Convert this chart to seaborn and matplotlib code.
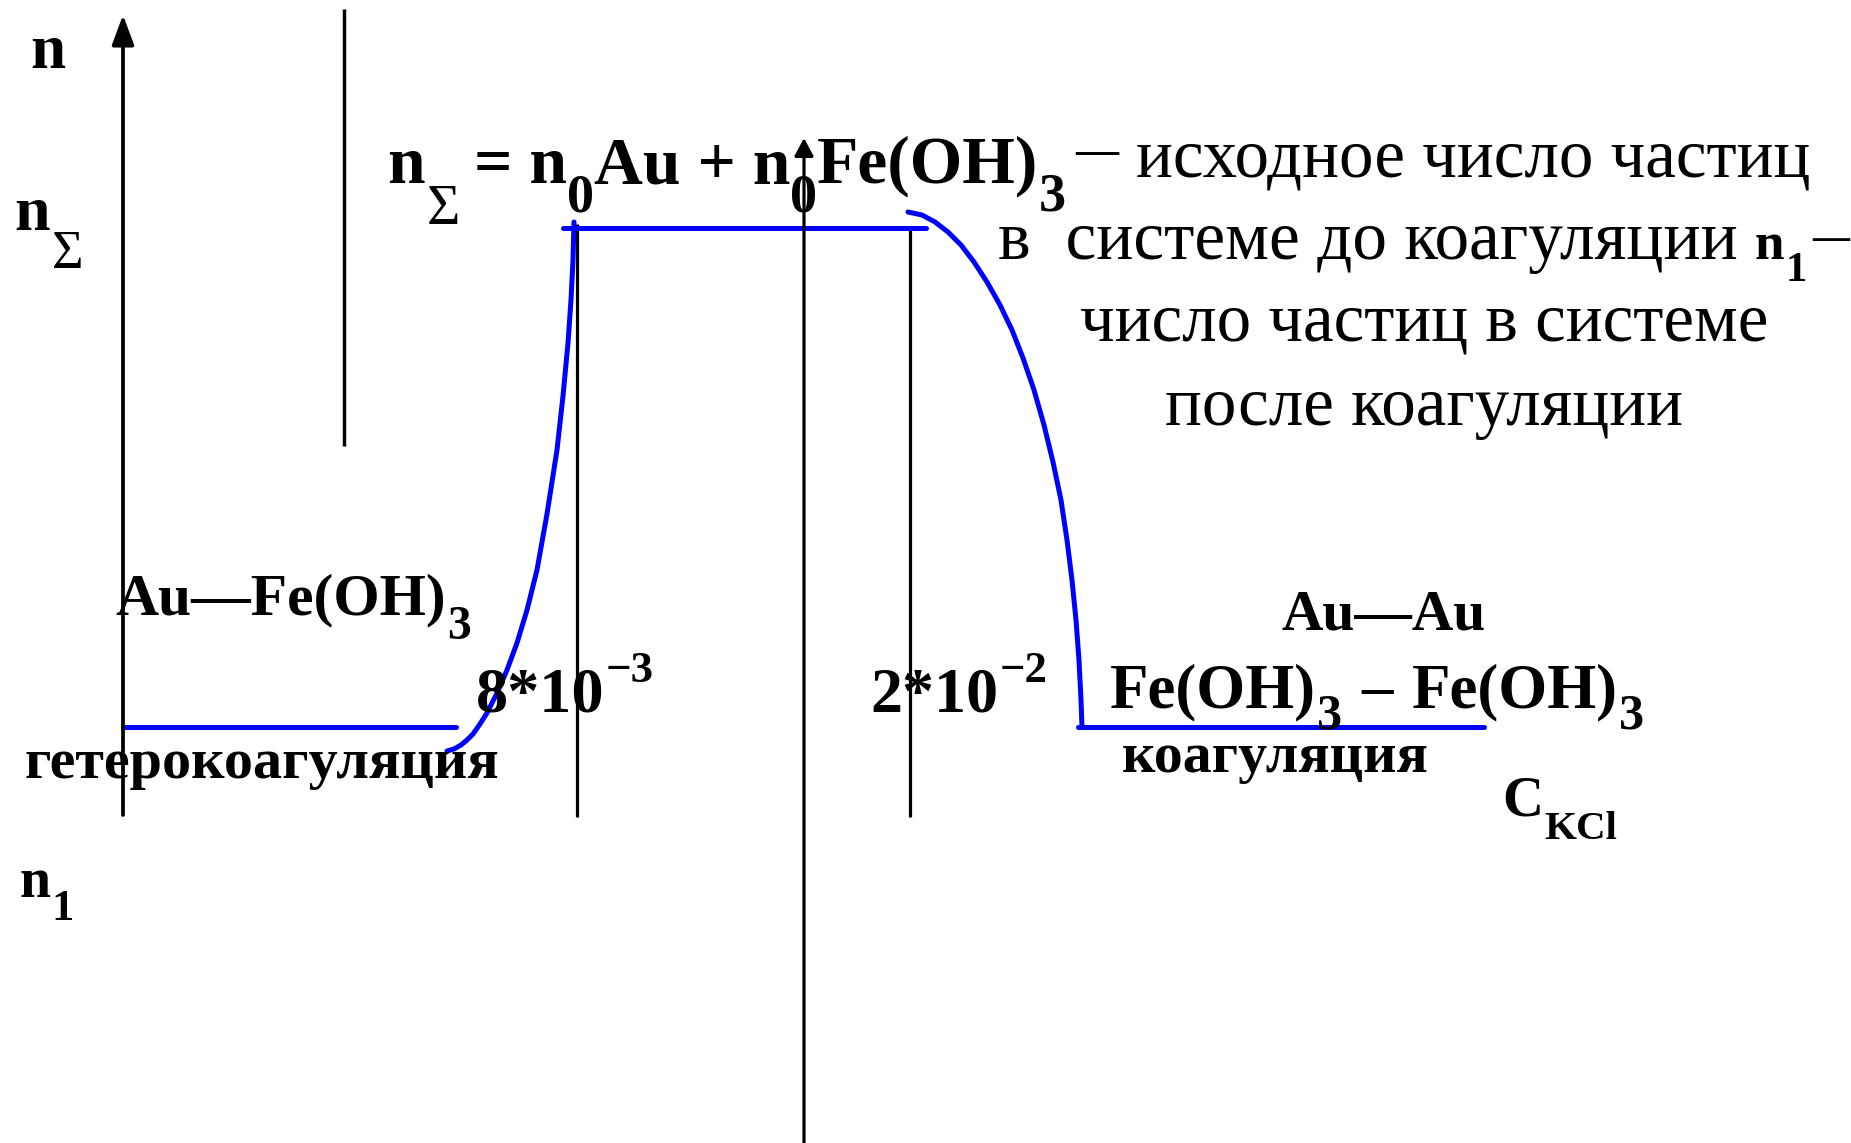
import matplotlib
matplotlib.use("Agg")
import matplotlib.pyplot as plt
from matplotlib.patches import ArrowStyle
import pandas as pd
import seaborn as sns

# ---- curve of particle number n against KCl concentration (canvas units) ----
hetero_c = [123, 456]
hetero_n = [727, 727]
rise_c = [447, 454, 461, 467, 473, 480, 487, 497, 507, 517, 527, 537, 547, 557, 563,
          568, 571, 573, 574]
rise_n = [751, 749, 745, 740, 734, 724, 713, 693, 670, 643, 610, 570, 514, 450, 396,
          343, 300, 260, 222]
stable_c = [563, 926]
stable_n = [228, 228]
fall_c = [908, 922, 935, 948, 961, 974, 987, 1000, 1012, 1023, 1034, 1044, 1053, 1061,
          1067, 1072, 1076, 1079, 1081, 1082]
fall_n = [212, 215, 222, 232, 245, 262, 282, 305, 330, 358, 390, 425, 462, 500,
          540, 580, 620, 660, 700, 727]
homo_c = [1078, 1484]
homo_n = [727, 727]

# threshold concentrations 8*10^-3 and 2*10^-2
threshold_c = [577, 910]
threshold_top = [224, 230]
threshold_bottom = [817, 817]

segments = {
    "hetero": (hetero_c, hetero_n),
    "rise": (rise_c, rise_n),
    "stable": (stable_c, stable_n),
    "fall": (fall_c, fall_n),
    "homo": (homo_c, homo_n),
}

W, H = 1851, 1143
PX = 100 / 72  # pixels per point at dpi 100

sns.set_style("white")
plt.rcParams["font.family"] = ["Liberation Serif", "DejaVu Serif"]

fig = plt.figure(figsize=(W / 100, H / 100), dpi=100)
ax = fig.add_axes([0, 0, 1, 1])

df = pd.concat(
    [pd.DataFrame({"c": c, "n": n, "segment": name}) for name, (c, n) in segments.items()],
    ignore_index=True,
)
sns.lineplot(data=df, x="c", y="n", units="segment", estimator=None, sort=False,
             color="#0000ff", linewidth=3.6, ax=ax, legend=False)

# vertical reference lines
for c, top, bot in zip(threshold_c, threshold_top, threshold_bottom):
    ax.plot([c, c], [top, bot], color="black", lw=2.3, zorder=1, solid_capstyle="butt")
ax.plot([344, 344], [9, 446], color="black", lw=2.5, zorder=1, solid_capstyle="butt")

# axes arrows
ax.annotate("", xy=(123, 15), xytext=(123, 815),
            arrowprops=dict(arrowstyle=ArrowStyle("-|>", head_length=0.7, head_width=0.26),
                            mutation_scale=26, lw=2.7, color="black",
                            shrinkA=0, shrinkB=0))
ax.annotate("", xy=(804, 138), xytext=(804, 1150),
            arrowprops=dict(arrowstyle=ArrowStyle("-|>", head_length=0.77, head_width=0.41),
                            mutation_scale=14, lw=2.3, color="black",
                            shrinkA=0, shrinkB=0))

ax.set_xlim(0, W)
ax.set_ylim(H, 0)
ax.axis("off")

renderer = fig.canvas.get_renderer()


def text_width(s, size, weight):
    t = ax.text(0, 0, s, fontsize=size, fontweight=weight)
    w = t.get_window_extent(renderer).width
    t.remove()
    return w


def rich_text(x, y, parts, width, size0=40):
    """Lay out pieces (text, drop_em, scale, gap_em, weight) on one baseline,
    sized so that the whole run is `width` pixels wide."""
    total = 0.0
    for s, dy, sc, gap, wt in parts:
        total += gap * size0 * PX + text_width(s, size0 * sc, wt)
    base = size0 * width / total
    cx = x
    for s, dy, sc, gap, wt in parts:
        cx += gap * base * PX
        ax.text(cx, y + dy * base * PX, s, ha="left", va="baseline",
                fontsize=base * sc, fontweight=wt, color="black")
        cx += text_width(s, base * sc, wt)


def fit_text(x, y, s, width, weight="normal"):
    rich_text(x, y, [(s, 0, 1, 0, weight)], width)


B, N = "bold", "normal"

# axis labels
rich_text(30, 68, [("n", 0, 1, 0, B)], 35)
rich_text(14, 230, [("n", 0, 1, 0, B), ("Σ", 0.6, 0.85, 0.03, N)], 69)
rich_text(19, 897, [("n", 0, 1, 0, B), ("1", 0.42, 0.8, 0.03, B)], 55)
rich_text(1502, 815, [("C", 0, 1, 0, B), ("KCl", 0.42, 0.72, 0.02, B)], 115)

# definition of n_Sigma and n_1
rich_text(387, 183, [("n", 0, 1, 0, B), ("Σ", 0.6, 0.85, 0.03, N),
                     ("= n", 0, 1, 0.2, B), ("0", 0.42, 0.8, 0, B),
                     ("Au + n", 0, 1, 0, B), ("0", 0.42, 0.8, 0, B),
                     ("Fe(OH)", 0, 1, 0, B), ("3", 0.4, 0.8, 0, B)], 679)
fit_text(1075, 163, "—", 43, B)
fit_text(1136, 177, "исходное число частиц", 674)
fit_text(998, 259, "в  системе до коагуляции", 737)
rich_text(1755, 259, [("n", 0, 1, 0, B), ("1", 0.42, 0.8, 0.02, B)], 52)
fit_text(1812, 249, "—", 37, B)
fit_text(1080, 341, "число частиц в системе", 687)
fit_text(1165, 425, "после коагуляции", 517)

# regions of the curve
rich_text(115, 614, [("Au—Fe(OH)", 0, 1, 0, B), ("3", 0.42, 0.8, 0.02, B)], 355)
fit_text(24, 778, "гетерокоагуляция", 475, B)
rich_text(476, 711, [("8*10", 0, 1, 0, B), ("−3", -0.45, 0.7, 0.02, B)], 178)
rich_text(870, 711, [("2*10", 0, 1, 0, B), ("−2", -0.45, 0.7, 0.02, B)], 177)
fit_text(1281, 630, "Au—Au", 204, B)
rich_text(1110, 707, [("Fe(OH)", 0, 1, 0, B), ("3", 0.34, 0.8, 0.02, B),
                      ("–", 0, 1, 0.3, B), ("Fe(OH)", 0, 1, 0.3, B),
                      ("3", 0.34, 0.8, 0.02, B)], 534)
fit_text(1122, 772, "коагуляция", 307, B)

fig.savefig("out.png", dpi=100, facecolor="white")
